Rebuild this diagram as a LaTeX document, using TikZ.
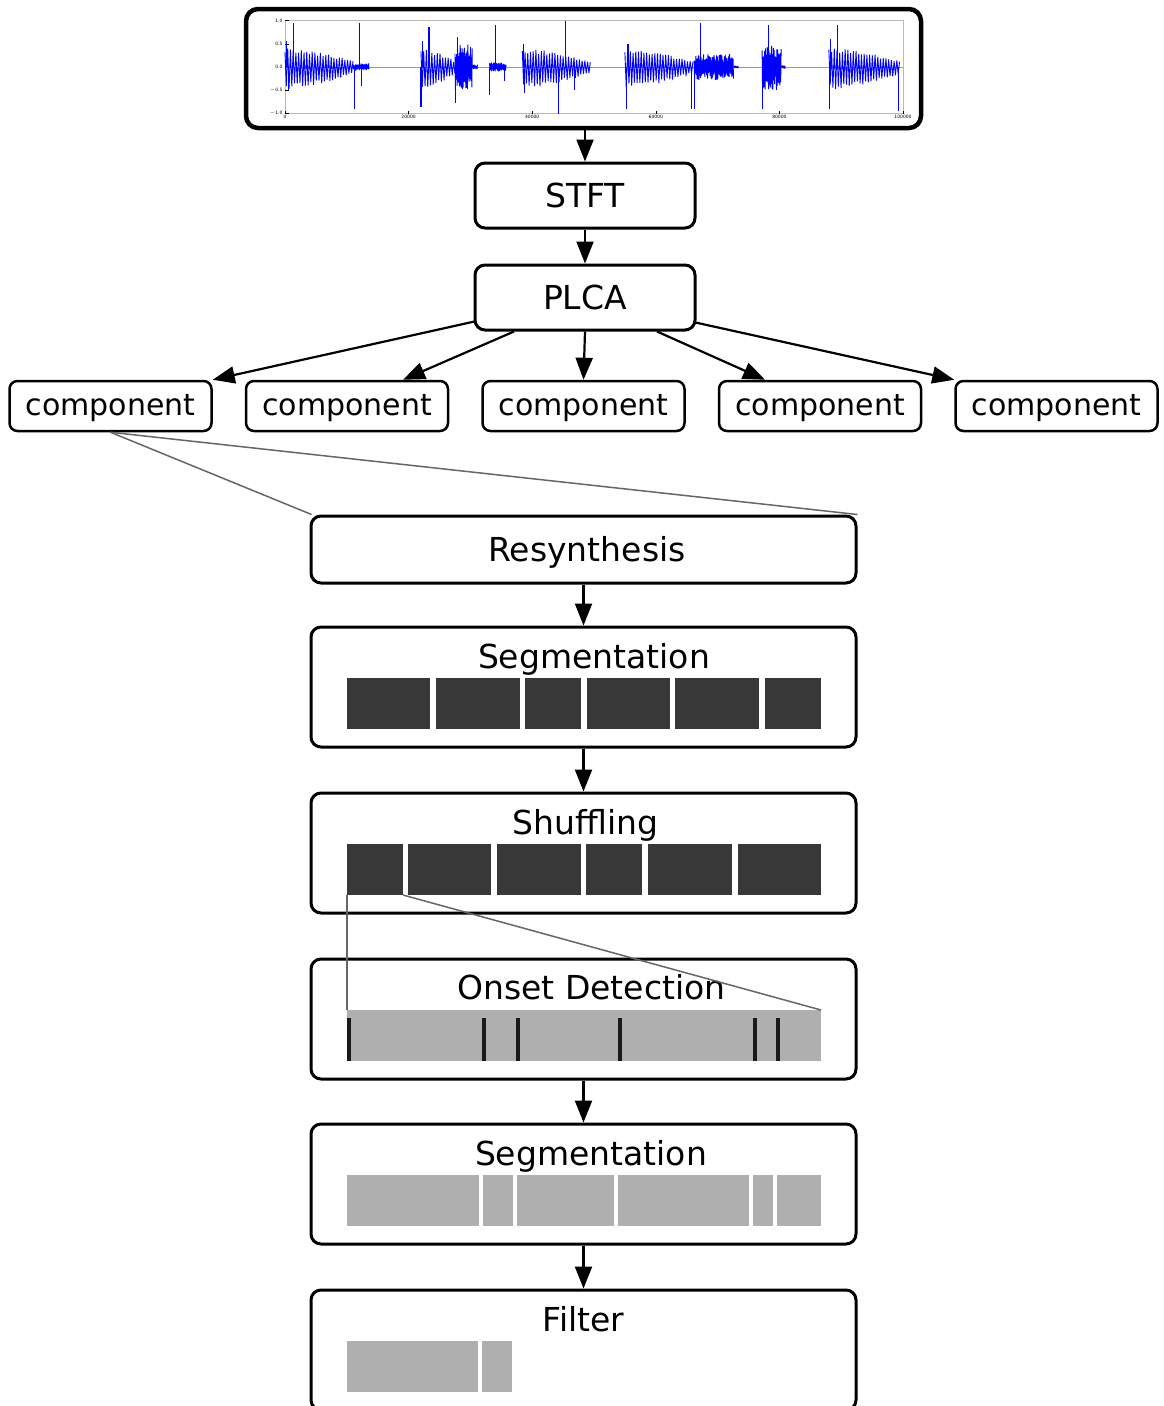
\documentclass[tikz,border=0pt]{standalone}
\usepackage{fontspec}
\setmainfont{DejaVu Sans}
\usetikzlibrary{arrows.meta,calc}

\definecolor{bardark}{HTML}{383838}
\definecolor{barlight}{HTML}{AFAFAF}
\definecolor{zoomgray}{HTML}{666666}
\definecolor{onsetline}{HTML}{1A1A1A}
\definecolor{waveblue}{RGB}{0,0,255}

% decaying tonal burst: start, end (in thousands of samples), amplitude
\newcommand\wavetone[3]{%
  \pgfmathtruncatemacro\wvn{(#2-#1)/0.22}%
  \pgfmathtruncatemacro\wvm{\wvn+1}%
  \draw[wave] plot[domain=0:\wvn, samples=\wvm, variable=\k]
    ({#1+\k*0.22}, {#3*(1-0.68*(\k/\wvn)^1.5)*(0.85+0.3*rnd)*(1-2.15*mod(round(\k),2))});%
}
% noisy burst: start, end, amplitude
\newcommand\wavenoise[3]{%
  \pgfmathtruncatemacro\wvn{(#2-#1)/0.07}%
  \pgfmathtruncatemacro\wvm{\wvn+1}%
  \draw[wave] plot[domain=0:\wvn, samples=\wvm, variable=\k]
    ({#1+\k*0.07}, {#3*(0.4+0.6*rnd)*(1-2*mod(round(\k),2))});%
}
% single transient spike
\newcommand\wavespike[2]{\draw[wave, line width=1.1pt] (#1,0) -- (#1,#2);}

\begin{document}
\begin{tikzpicture}[x=1pt,y=-1pt,
  box/.style={draw, line width=3pt, rounded corners=10pt, inner sep=0pt},
  procbox/.style={box, minimum width=220pt, minimum height=65pt, font=\fontsize{33}{40}\selectfont},
  comp/.style={draw, line width=2.5pt, rounded corners=8pt, inner sep=0pt,
    minimum width=202pt, minimum height=50pt, text height=24pt, text depth=5pt,
    font=\fontsize{30}{36}\selectfont},
  stagebox/.style={box, minimum width=545pt, minimum height=120pt},
  title/.style={anchor=base, inner sep=0pt, font=\fontsize{33}{40}\selectfont},
  arr/.style={line width=2.2pt, -{Triangle[length=22pt,width=17pt]}},
  zoomline/.style={draw=zoomgray, line width=1.5pt},
  wave/.style={draw=waveblue, line width=0.9pt, line join=bevel},
  ticklbl/.style={inner sep=0.5pt, font=\fontsize{4.5}{5}\selectfont},
]
\useasboundingbox (0,0) rectangle (1163,1406);
\fill[white] (0,0) rectangle (1163,1406);

% ---------- input signal ----------
\node[box, line width=4.5pt, rounded corners=12pt, minimum width=675pt, minimum height=119pt] (wave) at (583.5,68.5) {};
\begin{scope}[shift={(285,67)}, x=6.18pt, y=46.5pt]
  \pgfmathsetseed{7}
  \draw[gray!55, line width=0.5pt] (0,-1) rectangle (100,1);
  \foreach \v/\t [count=\i] in {1/1.0, 0.5/0.5, 0/0.0, -0.5/$-$0.5, -1/$-$1.0} {
    \draw[black, line width=0.4pt] (0,\v) -- (0.6,\v);
    \node[ticklbl, anchor=east] (ylab\i) at (-0.3,\v) {\t};
  }
  \foreach \v/\t [count=\i] in {0/0, 20/20000, 40/40000, 60/60000, 80/80000, 100/100000} {
    \draw[black, line width=0.4pt] (\v,-1) -- (\v,-0.94);
    \node[ticklbl, anchor=north] (xlab\i) at (\v,-1.02) {\t};
  }
  \draw[draw=waveblue!45, line width=0.9pt] (0,0) -- (100,0);
  % event 1
  \wavetone{0}{11}{0.36}
  \wavenoise{11}{13.6}{0.08}
  \wavespike{0.3}{0.55}\wavespike{0.5}{-0.5}\wavespike{1.4}{0.95}
  \wavespike{11.2}{-0.9}\wavespike{12.1}{0.95}\wavespike{12.4}{-0.4}
  % event 2
  \wavetone{22}{27.5}{0.35}
  \wavenoise{27.5}{30.3}{0.5}
  \wavenoise{30.3}{31.2}{0.05}
  \wavespike{22.0}{-0.85}\wavespike{22.2}{0.55}\wavespike{23.3}{0.85}
  \wavespike{27.6}{-0.78}\wavespike{27.9}{0.65}\wavespike{29.4}{-0.45}
  % event 3
  \wavenoise{33.1}{35.8}{0.1}
  \wavespike{33.1}{-0.6}\wavespike{34.0}{0.9}\wavespike{35.5}{-0.3}
  % event 4
  \wavetone{38.4}{49.6}{0.35}
  \wavespike{38.6}{0.5}\wavespike{38.8}{-0.55}\wavespike{44.3}{-1.0}
  \wavespike{45.4}{1.0}\wavespike{46.8}{-0.5}
  % event 5
  \wavetone{55}{66}{0.35}
  \wavespike{55.2}{-0.9}\wavespike{55.5}{0.5}\wavespike{65.8}{-0.9}
  % event 6
  \wavenoise{66.2}{72.6}{0.28}
  \wavenoise{72.6}{73.4}{0.03}
  \wavespike{66.3}{-0.9}\wavespike{67.3}{0.95}
  % event 7
  \wavenoise{77.2}{80.3}{0.5}
  \wavenoise{80.3}{81}{0.04}
  \wavespike{77.3}{-0.9}\wavespike{78.3}{0.9}\wavespike{79.5}{-0.5}
  % event 8
  \wavetone{88}{99.6}{0.37}
  \wavespike{88.1}{-0.9}\wavespike{88.3}{0.6}\wavespike{89.4}{0.9}
  \wavespike{99.2}{-0.95}
\end{scope}

% ---------- analysis ----------
\node[procbox] (stft) at (585,195.5) {STFT};
\node[procbox] (plca) at (585,297.5) {PLCA};

\node[comp] (c1) at (110.5,406) {component};
\node[comp] (c2) at (347,406) {component};
\node[comp] (c3) at (583.5,406) {component};
\node[comp] (c4) at (820,406) {component};
\node[comp] (c5) at (1056.5,406) {component};

\draw[arr] (wave.south -| stft.north) -- (stft.north);
\draw[arr] (stft) -- (plca);
\draw[arr] ($(plca.west)+(1,24)$) -- (c1.north east);
\draw[arr] ($(plca.south)+(-71,0)$) -- ($(c2.north)+(56,0)$);
\draw[arr] (plca.south) -- (c3.north);
\draw[arr] ($(plca.south)+(72,0)$) -- ($(c4.north)+(-55,0)$);
\draw[arr] ($(plca.east)+(-1,25)$) -- (c5.north west);

% ---------- processing stages ----------
\node[box, minimum width=545pt, minimum height=67pt] (resyn) at (583.5,549.5) {};
\node[title] (resynt) at (587,561) {Resynthesis};
\draw[zoomline] (c1.south) -- ($(resyn.north west)+(2,0)$);
\draw[zoomline] (c1.south) -- (resyn.north east);

\node[stagebox] (seg1) at (583.5,687) {};
\node[title] (seg1t) at (594,668) {Segmentation};
\foreach \a/\b in {347/430, 436/520, 525/581, 587/670, 675/759, 765/821}
  \fill[bardark] (\a,678) rectangle (\b,729);

\node[stagebox] (shuf) at (583.5,853) {};
\node[title] (shuft) at (585.5,834) {Shuffling};
\foreach \a/\b in {347/403, 408/491, 497/581, 586/642, 648/732, 738/821}
  \fill[bardark] (\a,844) rectangle (\b,895);

\node[stagebox] (onset) at (583.5,1019) {};
\node[title] (onsett) at (591.5,999) {Onset Detection};
\fill[barlight] (347,1010) rectangle (821,1061);
\foreach \x in {349, 484, 518, 620, 755, 778}
  \fill[onsetline] (\x-1.75,1018) rectangle (\x+1.75,1061);
\coordinate (zoomtop) at (347,895);
\coordinate (zoomtopr) at (403,895);
\draw[zoomline] (zoomtop) -- (347,1010);
\draw[zoomline] (zoomtopr) -- (821,1010);

\node[stagebox] (seg2) at (583.5,1184) {};
\node[title] (seg2t) at (591,1165) {Segmentation};
\foreach \a/\b in {347/479, 483/513, 517/614, 618/749, 753/773, 777/821}
  \fill[barlight] (\a,1175) rectangle (\b,1226);

\node[stagebox] (filt) at (583.5,1350) {};
\node[title] (filtt) at (583.5,1331) {Filter};
\foreach \a/\b in {347/478, 482/512}
  \fill[barlight] (\a,1341) rectangle (\b,1392);

\draw[arr] (resyn) -- (seg1);
\draw[arr] (seg1) -- (shuf);
\draw[arr] (onset) -- (seg2);
\draw[arr] (seg2) -- (filt);
\end{tikzpicture}
\end{document}
